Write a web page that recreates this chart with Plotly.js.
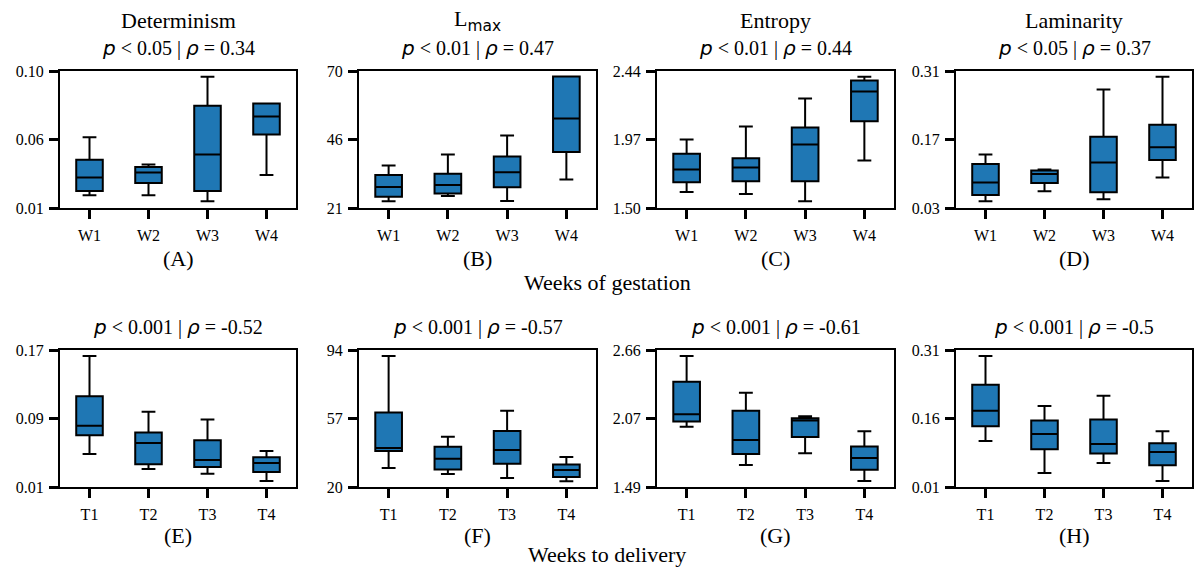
<!DOCTYPE html>
<html>
<head>
<meta charset="utf-8">
<script src="https://cdn.plot.ly/plotly-3.0.1.min.js"></script>
<style>html,body{margin:0;padding:0;background:#fff;}#chart{width:1198px;height:570px;}</style>
</head>
<body>
<div id="chart"></div>
<script>
// ---------------- data ----------------
const gestationCats = ['W1', 'W2', 'W3', 'W4'];
const deliveryCats = ['T1', 'T2', 'T3', 'T4'];

// each row: [lower whisker, Q1, median, Q3, upper whisker]
const determinismW = [[0.0183, 0.0211, 0.0301, 0.0417, 0.0565], [0.0183, 0.0264, 0.0334, 0.0369, 0.0386], [0.0144, 0.0211, 0.0452, 0.0771, 0.0963], [0.0316, 0.0583, 0.0701, 0.0786, 0.0786]];
const lmaxW = [[23.4, 25.0, 28.5, 32.8, 36.2], [25.3, 26.2, 29.2, 33.25, 40.1], [23.5, 28.4, 33.8, 39.4, 46.9], [31.2, 41.0, 53.0, 68.0, 68.0]];
const entropyW = [[1.610, 1.676, 1.765, 1.872, 1.970], [1.596, 1.683, 1.778, 1.842, 2.059], [1.546, 1.683, 1.936, 2.052, 2.251], [1.826, 2.095, 2.299, 2.374, 2.401]];
const laminarityW = [[0.0436, 0.0565, 0.0823, 0.1197, 0.1394], [0.064, 0.081, 0.0993, 0.1068, 0.1088], [0.0477, 0.062, 0.1231, 0.1754, 0.272], [0.0925, 0.128, 0.1544, 0.200, 0.2984]];
const determinismT = [[0.0486, 0.0705, 0.0814, 0.1161, 0.163], [0.031, 0.0365, 0.0615, 0.0736, 0.0978], [0.0256, 0.0334, 0.0416, 0.0646, 0.0888], [0.017, 0.0276, 0.0381, 0.0447, 0.0521]];
const lmaxT = [[30.3, 39.5, 41.1, 60.25, 90.75], [27.0, 29.4, 35.3, 41.7, 47.1], [24.9, 32.5, 40.0, 50.3, 61.2], [23.1, 25.4, 29.2, 32.1, 36.2]];
const entropyT = [[2.004, 2.049, 2.112, 2.389, 2.609], [1.678, 1.7725, 1.892, 2.141, 2.295], [1.778, 1.918, 2.058, 2.078, 2.095], [1.541, 1.638, 1.738, 1.835, 1.967]];
const laminarityT = [[0.111, 0.1432, 0.1768, 0.2339, 0.2968], [0.0407, 0.0927, 0.1263, 0.1556, 0.1871], [0.0627, 0.0832, 0.1044, 0.1578, 0.2098], [0.0232, 0.0576, 0.0868, 0.1059, 0.1322]];

// y-axis limits and tick labels (min, mid, max)
const yRanges = [[0.01, 0.10], [21, 70], [1.50, 2.44], [0.03, 0.31], [0.01, 0.17], [20, 94], [1.49, 2.66], [0.01, 0.31]];
const yTickLabels = [['0.01', '0.06', '0.10'], ['21', '46', '70'], ['1.50', '1.97', '2.44'], ['0.03', '0.17', '0.31'], ['0.01', '0.09', '0.17'], ['20', '57', '94'], ['1.49', '2.07', '2.66'], ['0.01', '0.16', '0.31']];

const metricNames = ['Determinism', 'L<sub><span style="font-family:DejaVu Sans">max</span></sub>', 'Entropy', 'Laminarity'];
const pLabels = ['0.05', '0.01', '0.01', '0.05', '0.001', '0.001', '0.001', '0.001'];
const rhoLabels = ['0.34', '0.47', '0.44', '0.37', '-0.52', '-0.57', '-0.61', '-0.5'];
const panelLetters = ['(A)', '(B)', '(C)', '(D)', '(E)', '(F)', '(G)', '(H)'];
const rowTitles = ['Weeks of gestation', 'Weeks to delivery'];

// ---------------- layout helpers ----------------
const W = 1198, H = 570;
const colPx = [[60, 296], [359, 596], [657, 894], [956, 1192]];
const rowPx = [[71, 208], [350, 487]];
const serif = 'Liberation Serif';

const panels = [determinismW, lmaxW, entropyW, laminarityW, determinismT, lmaxT, entropyT, laminarityT];
const traces = [];
const layout = {
  width: W, height: H,
  margin: {l: 0, r: 0, t: 0, b: 0},
  paper_bgcolor: '#fff', plot_bgcolor: '#fff',
  showlegend: false,
  font: {family: serif, color: '#000', size: 16},
  annotations: []
};

function ann(x, y, text, size) {
  return {xref: 'paper', yref: 'paper', x: x, y: y, xanchor: 'center', yanchor: 'middle',
    showarrow: false, text: text, font: {family: serif, size: size, color: '#000'}};
}

panels.forEach((rows, i) => {
  const r = Math.floor(i / 4), c = i % 4;
  const sfx = i === 0 ? '' : String(i + 1);
  const cats = r === 0 ? gestationCats : deliveryCats;
  traces.push({
    type: 'box',
    x: cats,
    lowerfence: rows.map(v => v[0]),
    q1: rows.map(v => v[1]),
    median: rows.map(v => v[2]),
    q3: rows.map(v => v[3]),
    upperfence: rows.map(v => v[4]),
    xaxis: 'x' + sfx, yaxis: 'y' + sfx,
    boxpoints: false,
    width: 0.45,
    whiskerwidth: 0.52,
    fillcolor: '#1f77b4',
    line: {color: '#000', width: 2},
    hoverinfo: 'skip'
  });
  const [x0, x1] = colPx[c], [y0, y1] = rowPx[r];
  const yr = yRanges[i];
  layout['xaxis' + sfx] = {
    domain: [x0 / W, x1 / W], anchor: 'y' + sfx, type: 'category',
    range: [-0.5, 3.5], showgrid: false, zeroline: false,
    showline: true, mirror: true, linecolor: '#000', linewidth: 2,
    ticks: 'outside', ticklen: 9, tickwidth: 3, tickcolor: '#000',
    ticklabelstandoff: 3,
    tickfont: {family: serif, size: 16, color: '#000'}
  };
  layout['yaxis' + sfx] = {
    domain: [1 - y1 / H, 1 - y0 / H], anchor: 'x' + sfx,
    range: yr, showgrid: false, zeroline: false,
    showline: true, mirror: true, linecolor: '#000', linewidth: 2,
    ticks: 'outside', ticklen: 9, tickwidth: 3, tickcolor: '#000',
    tickvals: [yr[0], (yr[0] + yr[1]) / 2, yr[1]], ticktext: yTickLabels[i],
    ticklabelstandoff: 2,
    tickfont: {family: serif, size: 16, color: '#000'}
  };
  const cx = (x0 + x1) / 2 / W;
  const sans = 'font-family:DejaVu Sans';
  const pText = '<span style="' + sans + '"><i>p</i></span> &lt; ' + pLabels[i] + ' | <span style="' + sans + '"><i>ρ</i></span> = ' + rhoLabels[i];
  if (r === 0) {
    layout.annotations.push(ann(cx, 1 - 20 / H, metricNames[c], 22));
    layout.annotations.push(ann(cx, 1 - 48 / H, pText, 20));
    layout.annotations.push(ann(cx, 1 - 258 / H, panelLetters[i], 22));
  } else {
    layout.annotations.push(ann(cx, 1 - 327 / H, pText, 20));
    layout.annotations.push(ann(cx, 1 - 535 / H, panelLetters[i], 22));
  }
});
layout.annotations.push(ann(607 / W, 1 - 282 / H, rowTitles[0], 22));
layout.annotations.push(ann(607 / W, 1 - 554 / H, rowTitles[1], 22));

Plotly.newPlot('chart', traces, layout, {displayModeBar: false, staticPlot: true});
</script>
</body>
</html>
